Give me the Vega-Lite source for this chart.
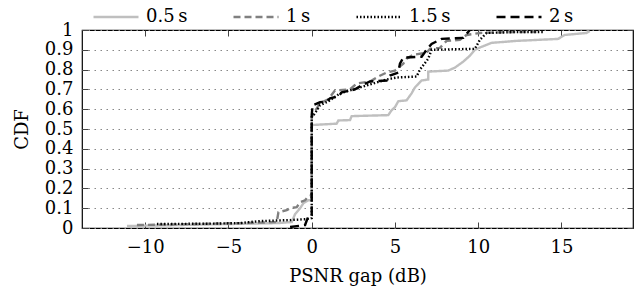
{
  "$schema": "https://vega.github.io/schema/vega-lite/v6.json",
  "width": 551,
  "height": 198,
  "autosize": {"type": "none"},
  "padding": {"left": 82, "top": 30, "right": 7, "bottom": 62},
  "config": {
    "view": {"stroke": "black", "strokeWidth": 1.2},
    "font": "DejaVu Serif",
    "text": {"font": "DejaVu Serif"},
    "legend": {"labelFont": "DejaVu Serif"},
    "axis": {"labelFont": "DejaVu Serif", "titleFont": "DejaVu Serif", "labelColor": "black", "titleColor": "black", "tickColor": "#444", "domain": false}
  },
  "datasets": {
    "cdf": [
      {"series": "0.5\u2009s", "i": 1, "gap": -11.1, "cdf": 0.01},
      {"series": "0.5\u2009s", "i": 2, "gap": -8, "cdf": 0.015},
      {"series": "0.5\u2009s", "i": 3, "gap": -5, "cdf": 0.02},
      {"series": "0.5\u2009s", "i": 4, "gap": -2, "cdf": 0.025},
      {"series": "0.5\u2009s", "i": 5, "gap": -1.2, "cdf": 0.03},
      {"series": "0.5\u2009s", "i": 6, "gap": -1.0, "cdf": 0.07},
      {"series": "0.5\u2009s", "i": 7, "gap": -0.7, "cdf": 0.1},
      {"series": "0.5\u2009s", "i": 8, "gap": -0.5, "cdf": 0.125},
      {"series": "0.5\u2009s", "i": 9, "gap": -0.2, "cdf": 0.14},
      {"series": "0.5\u2009s", "i": 10, "gap": 0, "cdf": 0.14},
      {"series": "0.5\u2009s", "i": 11, "gap": 0, "cdf": 0.52},
      {"series": "0.5\u2009s", "i": 12, "gap": 1.5, "cdf": 0.527},
      {"series": "0.5\u2009s", "i": 13, "gap": 1.6, "cdf": 0.543},
      {"series": "0.5\u2009s", "i": 14, "gap": 2.3, "cdf": 0.545},
      {"series": "0.5\u2009s", "i": 15, "gap": 2.4, "cdf": 0.565},
      {"series": "0.5\u2009s", "i": 16, "gap": 4.6, "cdf": 0.57},
      {"series": "0.5\u2009s", "i": 17, "gap": 4.8, "cdf": 0.595},
      {"series": "0.5\u2009s", "i": 18, "gap": 5.0, "cdf": 0.61},
      {"series": "0.5\u2009s", "i": 19, "gap": 5.2, "cdf": 0.64},
      {"series": "0.5\u2009s", "i": 20, "gap": 5.7, "cdf": 0.645},
      {"series": "0.5\u2009s", "i": 21, "gap": 6.0, "cdf": 0.68},
      {"series": "0.5\u2009s", "i": 22, "gap": 6.2, "cdf": 0.71},
      {"series": "0.5\u2009s", "i": 23, "gap": 6.6, "cdf": 0.745},
      {"series": "0.5\u2009s", "i": 24, "gap": 7.0, "cdf": 0.75},
      {"series": "0.5\u2009s", "i": 25, "gap": 7.0, "cdf": 0.79},
      {"series": "0.5\u2009s", "i": 26, "gap": 8.2, "cdf": 0.795},
      {"series": "0.5\u2009s", "i": 27, "gap": 8.6, "cdf": 0.81},
      {"series": "0.5\u2009s", "i": 28, "gap": 9.1, "cdf": 0.84},
      {"series": "0.5\u2009s", "i": 29, "gap": 9.5, "cdf": 0.87},
      {"series": "0.5\u2009s", "i": 30, "gap": 9.8, "cdf": 0.9},
      {"series": "0.5\u2009s", "i": 31, "gap": 10.2, "cdf": 0.915},
      {"series": "0.5\u2009s", "i": 32, "gap": 10.8, "cdf": 0.935},
      {"series": "0.5\u2009s", "i": 33, "gap": 12.3, "cdf": 0.945},
      {"series": "0.5\u2009s", "i": 34, "gap": 14.8, "cdf": 0.955},
      {"series": "0.5\u2009s", "i": 35, "gap": 15.2, "cdf": 0.975},
      {"series": "0.5\u2009s", "i": 36, "gap": 16.5, "cdf": 0.985},
      {"series": "0.5\u2009s", "i": 37, "gap": 16.7, "cdf": 0.995},

      {"series": "1\u2009s", "i": 1, "gap": -10.5, "cdf": 0.015},
      {"series": "1\u2009s", "i": 2, "gap": -7, "cdf": 0.02},
      {"series": "1\u2009s", "i": 3, "gap": -4, "cdf": 0.025},
      {"series": "1\u2009s", "i": 4, "gap": -2.1, "cdf": 0.03},
      {"series": "1\u2009s", "i": 5, "gap": -2.0, "cdf": 0.08},
      {"series": "1\u2009s", "i": 6, "gap": -1.5, "cdf": 0.09},
      {"series": "1\u2009s", "i": 7, "gap": -1.3, "cdf": 0.1},
      {"series": "1\u2009s", "i": 8, "gap": -0.9, "cdf": 0.105},
      {"series": "1\u2009s", "i": 9, "gap": -0.7, "cdf": 0.13},
      {"series": "1\u2009s", "i": 10, "gap": -0.4, "cdf": 0.14},
      {"series": "1\u2009s", "i": 11, "gap": -0.2, "cdf": 0.16},
      {"series": "1\u2009s", "i": 12, "gap": 0, "cdf": 0.165},
      {"series": "1\u2009s", "i": 13, "gap": 0, "cdf": 0.56},
      {"series": "1\u2009s", "i": 14, "gap": 0.2, "cdf": 0.59},
      {"series": "1\u2009s", "i": 15, "gap": 0.5, "cdf": 0.63},
      {"series": "1\u2009s", "i": 16, "gap": 1.0, "cdf": 0.65},
      {"series": "1\u2009s", "i": 17, "gap": 1.4, "cdf": 0.695},
      {"series": "1\u2009s", "i": 18, "gap": 2.3, "cdf": 0.7},
      {"series": "1\u2009s", "i": 19, "gap": 2.7, "cdf": 0.73},
      {"series": "1\u2009s", "i": 20, "gap": 3.5, "cdf": 0.74},
      {"series": "1\u2009s", "i": 21, "gap": 4.0, "cdf": 0.765},
      {"series": "1\u2009s", "i": 22, "gap": 4.5, "cdf": 0.785},
      {"series": "1\u2009s", "i": 23, "gap": 5.0, "cdf": 0.795},
      {"series": "1\u2009s", "i": 24, "gap": 5.5, "cdf": 0.83},
      {"series": "1\u2009s", "i": 25, "gap": 5.7, "cdf": 0.855},
      {"series": "1\u2009s", "i": 26, "gap": 6.1, "cdf": 0.875},
      {"series": "1\u2009s", "i": 27, "gap": 6.9, "cdf": 0.885},
      {"series": "1\u2009s", "i": 28, "gap": 7.1, "cdf": 0.905},
      {"series": "1\u2009s", "i": 29, "gap": 7.7, "cdf": 0.91},
      {"series": "1\u2009s", "i": 30, "gap": 8.1, "cdf": 0.945},
      {"series": "1\u2009s", "i": 31, "gap": 8.9, "cdf": 0.95},
      {"series": "1\u2009s", "i": 32, "gap": 9.3, "cdf": 0.975},
      {"series": "1\u2009s", "i": 33, "gap": 10.1, "cdf": 0.985},
      {"series": "1\u2009s", "i": 34, "gap": 12.3, "cdf": 0.99},
      {"series": "1\u2009s", "i": 35, "gap": 13.5, "cdf": 0.99},

      {"series": "1.5\u2009s", "i": 1, "gap": -9.3, "cdf": 0.02},
      {"series": "1.5\u2009s", "i": 2, "gap": -6, "cdf": 0.022},
      {"series": "1.5\u2009s", "i": 3, "gap": -4.3, "cdf": 0.025},
      {"series": "1.5\u2009s", "i": 4, "gap": -3.1, "cdf": 0.035},
      {"series": "1.5\u2009s", "i": 5, "gap": -1.3, "cdf": 0.04},
      {"series": "1.5\u2009s", "i": 6, "gap": -0.3, "cdf": 0.045},
      {"series": "1.5\u2009s", "i": 7, "gap": 0, "cdf": 0.05},
      {"series": "1.5\u2009s", "i": 8, "gap": 0, "cdf": 0.56},
      {"series": "1.5\u2009s", "i": 9, "gap": 0.2, "cdf": 0.58},
      {"series": "1.5\u2009s", "i": 10, "gap": 0.5, "cdf": 0.62},
      {"series": "1.5\u2009s", "i": 11, "gap": 1.0, "cdf": 0.64},
      {"series": "1.5\u2009s", "i": 12, "gap": 1.7, "cdf": 0.68},
      {"series": "1.5\u2009s", "i": 13, "gap": 2.5, "cdf": 0.7},
      {"series": "1.5\u2009s", "i": 14, "gap": 3.3, "cdf": 0.72},
      {"series": "1.5\u2009s", "i": 15, "gap": 4.5, "cdf": 0.75},
      {"series": "1.5\u2009s", "i": 16, "gap": 5.1, "cdf": 0.76},
      {"series": "1.5\u2009s", "i": 17, "gap": 6.3, "cdf": 0.765},
      {"series": "1.5\u2009s", "i": 18, "gap": 6.5, "cdf": 0.8},
      {"series": "1.5\u2009s", "i": 19, "gap": 7.0, "cdf": 0.855},
      {"series": "1.5\u2009s", "i": 20, "gap": 7.2, "cdf": 0.9},
      {"series": "1.5\u2009s", "i": 21, "gap": 9.8, "cdf": 0.905},
      {"series": "1.5\u2009s", "i": 22, "gap": 10.1, "cdf": 0.95},
      {"series": "1.5\u2009s", "i": 23, "gap": 10.5, "cdf": 0.985},
      {"series": "1.5\u2009s", "i": 24, "gap": 12.3, "cdf": 0.99},
      {"series": "1.5\u2009s", "i": 25, "gap": 14.0, "cdf": 0.99},

      {"series": "2\u2009s", "i": 1, "gap": -1.3, "cdf": 0.005},
      {"series": "2\u2009s", "i": 2, "gap": -0.4, "cdf": 0.015},
      {"series": "2\u2009s", "i": 3, "gap": -0.2, "cdf": 0.06},
      {"series": "2\u2009s", "i": 4, "gap": 0, "cdf": 0.065},
      {"series": "2\u2009s", "i": 5, "gap": 0, "cdf": 0.57},
      {"series": "2\u2009s", "i": 6, "gap": 0.05, "cdf": 0.62},
      {"series": "2\u2009s", "i": 7, "gap": 0.5, "cdf": 0.635},
      {"series": "2\u2009s", "i": 8, "gap": 0.9, "cdf": 0.64},
      {"series": "2\u2009s", "i": 9, "gap": 1.1, "cdf": 0.655},
      {"series": "2\u2009s", "i": 10, "gap": 1.6, "cdf": 0.665},
      {"series": "2\u2009s", "i": 11, "gap": 1.8, "cdf": 0.685},
      {"series": "2\u2009s", "i": 12, "gap": 2.6, "cdf": 0.7},
      {"series": "2\u2009s", "i": 13, "gap": 3.0, "cdf": 0.72},
      {"series": "2\u2009s", "i": 14, "gap": 3.5, "cdf": 0.74},
      {"series": "2\u2009s", "i": 15, "gap": 4.5, "cdf": 0.745},
      {"series": "2\u2009s", "i": 16, "gap": 4.7, "cdf": 0.77},
      {"series": "2\u2009s", "i": 17, "gap": 5.2, "cdf": 0.785},
      {"series": "2\u2009s", "i": 18, "gap": 5.3, "cdf": 0.83},
      {"series": "2\u2009s", "i": 19, "gap": 5.5, "cdf": 0.86},
      {"series": "2\u2009s", "i": 20, "gap": 6.6, "cdf": 0.865},
      {"series": "2\u2009s", "i": 21, "gap": 6.9, "cdf": 0.9},
      {"series": "2\u2009s", "i": 22, "gap": 7.2, "cdf": 0.93},
      {"series": "2\u2009s", "i": 23, "gap": 7.8, "cdf": 0.955},
      {"series": "2\u2009s", "i": 24, "gap": 9.1, "cdf": 0.96},
      {"series": "2\u2009s", "i": 25, "gap": 9.5, "cdf": 1.0}
    ]
  },
  "data": {"name": "cdf"},
  "layer": [
    {
      "mark": {"type": "line", "strokeWidth": 2.4, "strokeCap": "butt", "clip": true},
      "encoding": {
        "x": {
          "field": "gap", "type": "quantitative",
          "scale": {"domain": [-13.8, 19.3], "nice": false, "zero": false},
          "axis": {
            "orient": "bottom", "title": "PSNR gap (dB)", "values": [-10, -5, 0, 5, 10, 15],
            "grid": false, "tickSize": -6, "labelPadding": 16, "labelFontSize": 18,
            "titleFontSize": 18, "titleFontWeight": "normal", "titleBaseline": "alphabetic", "titleY": 53,
            "labelFlush": false, "labelOverlap": false
          }
        },
        "y": {
          "field": "cdf", "type": "quantitative",
          "scale": {"domain": [0, 1], "nice": false},
          "axis": {
            "orient": "left", "title": "CDF", "values": [0, 0.1, 0.2, 0.3, 0.4, 0.5, 0.6, 0.7, 0.8, 0.9, 1],
            "format": "~g", "grid": true, "gridDash": [1.5, 4.5], "gridColor": "#888", "gridWidth": 1.2,
            "tickSize": -6, "labelPadding": 15, "labelFontSize": 18, "labelFlush": false, "labelOverlap": false,
            "titleFontSize": 18, "titleFontWeight": "normal", "titleBaseline": "alphabetic",
            "titleX": -55, "titleY": 99, "titleAngle": -90
          }
        },
        "color": {
          "field": "series", "type": "nominal",
          "scale": {"domain": ["0.5\u2009s", "1\u2009s", "1.5\u2009s", "2\u2009s"], "range": ["#bfbfbf", "#808080", "#000000", "#000000"]},
          "legend": {
            "orient": "none", "legendX": 10, "legendY": -37, "direction": "horizontal", "columns": 4,
            "title": null, "symbolType": "stroke", "symbolSize": 2025, "symbolStrokeWidth": 2.4,
            "labelFontSize": 18, "labelFont": "DejaVu Serif", "labelColor": "black", "labelOffset": 6, "columnPadding": 40, "padding": 0
          }
        },
        "strokeDash": {
          "field": "series", "type": "nominal",
          "scale": {"domain": ["0.5\u2009s", "1\u2009s", "1.5\u2009s", "2\u2009s"], "range": [[1, 0], [7, 4], [1.5, 2], [9, 5]]},
          "legend": {
            "orient": "none", "legendX": 10, "legendY": -37, "direction": "horizontal", "columns": 4,
            "title": null, "symbolType": "stroke", "symbolSize": 2025, "symbolStrokeWidth": 2.4,
            "labelFontSize": 18, "labelFont": "DejaVu Serif", "labelColor": "black", "labelOffset": 6, "columnPadding": 40, "padding": 0
          }
        },
        "order": {"field": "i", "type": "quantitative"}
      }
    },
    {
      "mark": {"type": "point", "opacity": 0},
      "encoding": {
        "x": {"field": "gap", "type": "quantitative", "axis": {"orient": "top", "labels": false, "title": null, "grid": false, "values": [-10, -5, 0, 5, 10, 15], "tickSize": -6}},
        "y": {"field": "cdf", "type": "quantitative", "axis": {"orient": "right", "labels": false, "title": null, "grid": false, "values": [0, 0.1, 0.2, 0.3, 0.4, 0.5, 0.6, 0.7, 0.8, 0.9, 1], "tickSize": -6}}
      }
    }
  ],
  "resolve": {"axis": {"x": "independent", "y": "independent"}}
}
